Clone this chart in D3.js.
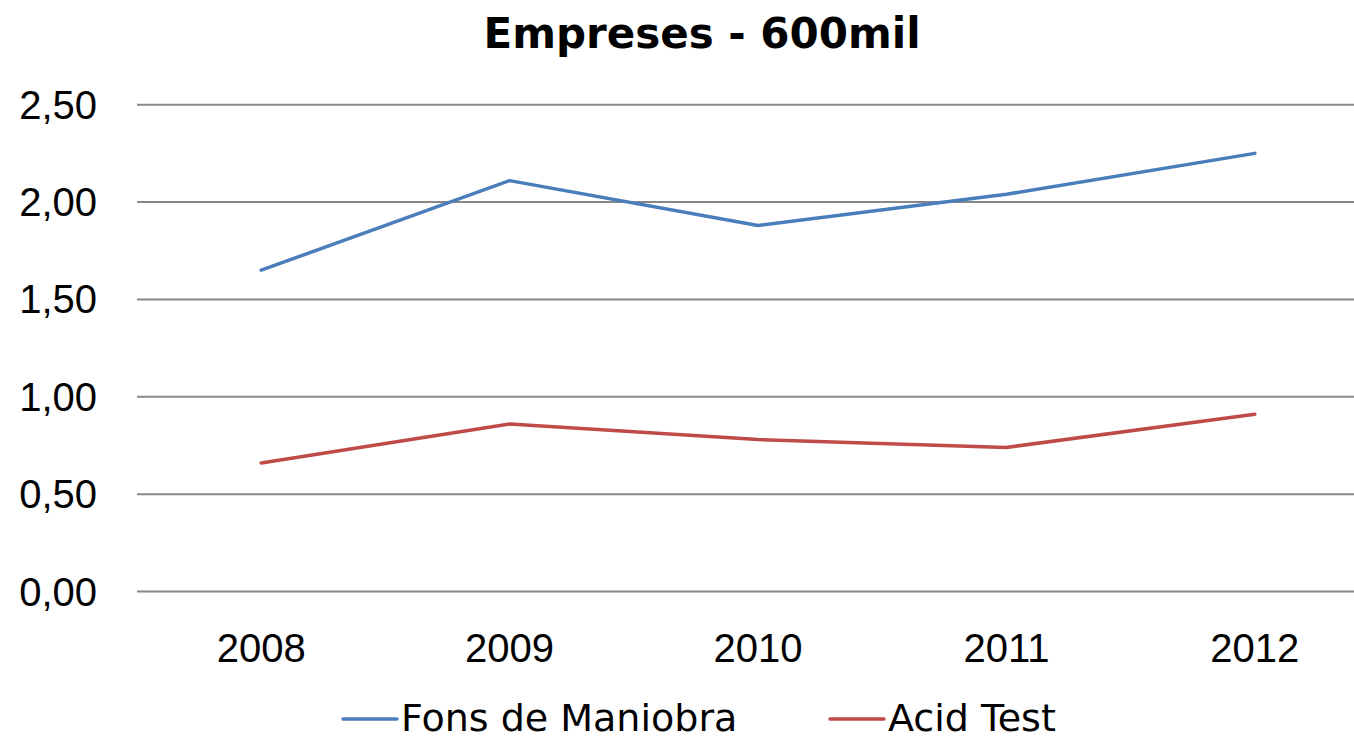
<!DOCTYPE html>
<html>
<head>
<meta charset="utf-8">
<script src="https://cdn.jsdelivr.net/npm/d3@7"></script>
<style>
  body { margin: 0; background: #fff; }
  svg { display: block; }
</style>
</head>
<body>
<svg id="chart" width="1354" height="741"></svg>
<script>
const years = ['2008', '2009', '2010', '2011', '2012'];
const fonsManiobra = [1.65, 2.11, 1.88, 2.04, 2.25];
const acidTest = [0.66, 0.86, 0.78, 0.74, 0.91];
const yTicks = [0, 0.5, 1, 1.5, 2, 2.5];
const seriesNames = ['Fons de Maniobra', 'Acid Test'];
const colors = ['#4a7ebb', '#be4b48'];

const svg = d3.select('#chart');
const plotLeft = 137, plotRight = 1379, plotTop = 104.7, plotBottom = 591.5;

const x = d3.scaleBand().domain(years).range([plotLeft, plotRight]).padding(0);
const y = d3.scaleLinear().domain([0, 2.5]).range([plotBottom, plotTop]);

// title
svg.append('text')
  .attr('x', 702).attr('y', 48)
  .attr('text-anchor', 'middle')
  .style('font-family', 'DejaVu Sans')
  .style('font-weight', 'bold')
  .style('font-size', '42px')
  .text('Empreses - 600mil');

// gridlines
svg.append('g').selectAll('line')
  .data(yTicks)
  .enter().append('line')
  .attr('x1', plotLeft).attr('x2', 1354)
  .attr('y1', d => y(d)).attr('y2', d => y(d))
  .attr('stroke', '#888').attr('stroke-width', 2);

// y axis labels
const fmt = d => d3.format('.2f')(d).replace('.', ',');
svg.append('g').selectAll('text')
  .data(yTicks)
  .enter().append('text')
  .attr('x', 97).attr('y', d => y(d) + 14)
  .attr('text-anchor', 'end')
  .style('font-family', 'Liberation Sans')
  .style('font-size', '40px')
  .text(fmt);

// x axis labels
svg.append('g').selectAll('text')
  .data(years)
  .enter().append('text')
  .attr('x', d => x(d) + x.bandwidth() / 2).attr('y', 662)
  .attr('text-anchor', 'middle')
  .style('font-family', 'Liberation Sans')
  .style('font-size', '40px')
  .text(d => d);

// lines
const line = d3.line()
  .x((d, i) => x(years[i]) + x.bandwidth() / 2)
  .y(d => y(d));

[fonsManiobra, acidTest].forEach((s, i) => {
  svg.append('path')
    .datum(s)
    .attr('d', line)
    .attr('fill', 'none')
    .attr('stroke', colors[i])
    .attr('stroke-width', 3.5)
    .attr('stroke-linecap', 'round')
    .attr('stroke-linejoin', 'round');
});

// legend
const legendX = [343, 830];
seriesNames.forEach((name, i) => {
  const g = svg.append('g').attr('transform', `translate(${legendX[i]},719)`);
  g.append('line')
    .attr('x1', 0).attr('x2', 54)
    .attr('stroke', colors[i]).attr('stroke-width', 3.5)
    .attr('stroke-linecap', 'round');
  g.append('text')
    .attr('x', 58).attr('y', 12)
    .style('font-family', 'DejaVu Sans')
    .style('font-size', '38px')
    .text(name);
});
</script>
</body>
</html>
